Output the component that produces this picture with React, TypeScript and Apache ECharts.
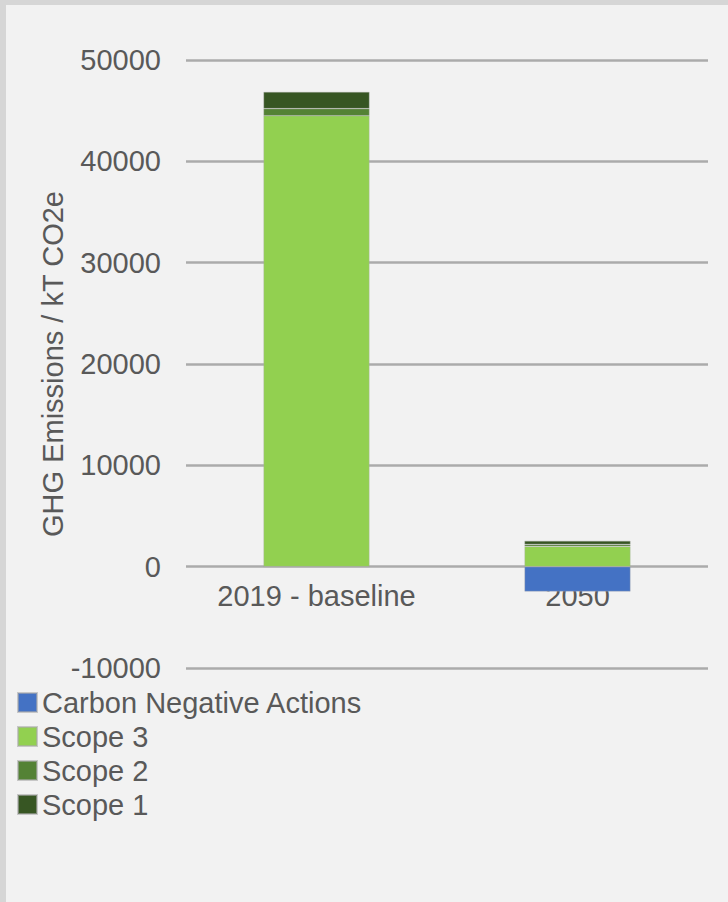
import React, { useEffect, useRef } from "react";
import * as echarts from "echarts";

const categories = ["2019 - baseline", "2050"];
const carbonNegative = [0, -2450];
const scope3 = [44500, 2000];
const scope2 = [700, 200];
const scope1 = [1650, 350];
const yTicks = { min: -10000, max: 50000, interval: 10000 };

const FONT = "'Liberation Sans', Arial, sans-serif";
const TEXT = "#595959";
const GRID_H = 608;

export default function App() {
  const ref = useRef<HTMLDivElement>(null);
  useEffect(() => {
    if (!ref.current) return;
    const chart = echarts.init(ref.current, undefined, { renderer: "svg" });
    const border = { borderColor: "rgba(170,170,170,0.6)", borderWidth: 0.6 };
    const mk = (name: string, data: number[], color: string) => ({
      name,
      type: "bar",
      stack: "total",
      data,
      barWidth: 106,
      itemStyle: { color, ...border },
      emphasis: { disabled: true },
    });
    // move category axis up to the zero line
    const zeroOffset =
      (GRID_H * (0 - yTicks.min)) / (yTicks.max - yTicks.min);
    chart.setOption({
      animation: false,
      backgroundColor: "#f2f2f2",
      textStyle: { fontFamily: FONT },
      grid: { left: 180, top: 55, width: 522, height: GRID_H },
      legend: {
        orient: "vertical",
        left: 6,
        top: 678,
        itemWidth: 19,
        itemHeight: 19,
        itemGap: 5,
        icon: "rect",
        textStyle: { color: TEXT, fontSize: 29, fontFamily: FONT, lineHeight: 29 },
        data: ["Carbon Negative Actions", "Scope 3", "Scope 2", "Scope 1"],
      },
      xAxis: {
        type: "category",
        data: categories,
        offset: -zeroOffset,
        axisLine: { show: false, onZero: false },
        axisTick: { show: false },
        axisLabel: { color: TEXT, fontSize: 29, fontFamily: FONT, margin: 15 },
      },
      yAxis: {
        type: "value",
        min: yTicks.min,
        max: yTicks.max,
        interval: yTicks.interval,
        name: "GHG Emissions / kT CO2e",
        nameLocation: "middle",
        nameRotate: 90,
        nameGap: 119,
        nameMoveOverlap: false,
        nameTextStyle: { color: TEXT, fontSize: 29, fontFamily: FONT },
        axisLine: { show: false },
        axisTick: { show: false },
        axisLabel: {
          color: TEXT,
          fontSize: 29,
          fontFamily: FONT,
          margin: 25,
          formatter: (v: number) => String(v),
        },
        splitLine: { lineStyle: { color: "#ababab", width: 2.5 } },
      },
      series: [
        mk("Carbon Negative Actions", carbonNegative, "#4472c4"),
        mk("Scope 3", scope3, "#92d050"),
        mk("Scope 2", scope2, "#548235"),
        mk("Scope 1", scope1, "#375623"),
      ],
    });
    return () => chart.dispose();
  }, []);
  return (
    <div
      style={{
        position: "fixed",
        left: 0,
        top: 0,
        width: 728,
        height: 902,
        background: "#d6d6d6",
      }}
    >
      <div
        ref={ref}
        style={{ position: "absolute", left: 6, top: 5, width: 722, height: 897 }}
      />
    </div>
  );
}
